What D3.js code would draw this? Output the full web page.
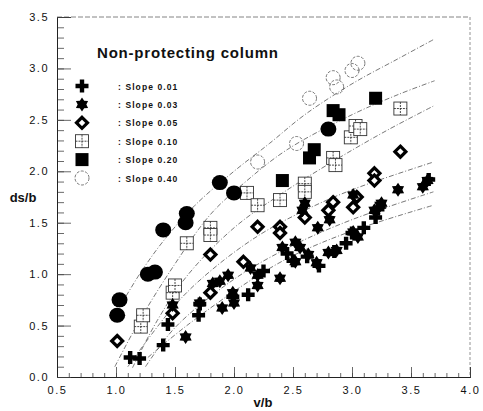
<!DOCTYPE html>
<html>
<head>
<meta charset="utf-8">
<script src="https://cdn.jsdelivr.net/npm/d3@7"></script>
<style>
  html, body { margin: 0; padding: 0; background: #fff; }
  svg { display: block; }
  text { font-family: "Liberation Sans", Arial, sans-serif; fill: #111; }
</style>
</head>
<body>
<svg id="chart" width="483" height="411"></svg>
<script>
// ---- data: v/b against ds/b for each bed slope ----
const slopeLabels = [": Slope 0.01", ": Slope 0.03", ": Slope 0.05", ": Slope 0.10", ": Slope 0.20", ": Slope 0.40"];

const slope001 = [[1.12,0.19],[1.20,0.18],[1.40,0.31],[1.44,0.51],[1.70,0.60],[1.71,0.71],[1.99,0.78],[2.12,0.80],
  [2.25,1.03],[2.45,1.20],[2.50,1.13],[2.62,1.17],[2.72,1.08],[2.85,1.22],[2.95,1.30],[3.00,1.40],[3.10,1.45],
  [3.20,1.55],[3.22,1.63],[3.65,1.92]];
const slope003 = [[1.48,0.70],[1.59,0.39],[1.71,0.72],[1.82,0.91],[1.88,0.93],[1.90,0.67],[1.95,0.99],[1.99,0.82],
  [2.00,0.72],[2.14,1.06],[2.20,0.99],[2.20,0.89],[2.39,0.96],[2.41,1.26],[2.52,1.31],[2.56,1.26],[2.52,1.12],
  [2.63,1.19],[2.70,1.11],[2.80,1.21],[2.87,1.23],[2.58,1.62],[2.60,1.69],[2.71,1.45],[2.81,1.53],[3.01,1.41],
  [3.05,1.36],[3.01,1.77],[3.19,1.62],[3.24,1.67],[3.25,1.69],[3.39,1.82],[3.60,1.85],[3.64,1.91]];
const slope005 = [[1.01,0.35],[1.48,0.62],[1.80,0.82],[1.80,1.19],[2.08,1.12],[2.20,1.46],[2.39,1.46],[2.39,1.40],
  [2.60,1.55],[2.80,1.62],[2.84,1.70],[3.01,1.65],[3.04,1.75],[3.19,1.98],[3.19,1.91],[3.41,2.19]];
const slope010 = [[1.21,0.49],[1.23,0.60],[1.48,0.82],[1.50,0.89],[1.60,1.30],[1.80,1.45],[1.80,1.38],[2.11,1.79],
  [2.20,1.67],[2.39,1.72],[2.60,1.88],[2.60,1.80],[2.84,2.13],[2.86,2.06],[2.99,2.33],[3.03,2.44],[3.07,2.41],[3.41,2.61]];
const slope020 = [[2.41,1.91],[2.64,2.13],[2.68,2.21],[2.84,2.59],[2.89,2.55],[3.20,2.71]];
const slope020Round = [[1.01,0.60],[1.03,0.75],[1.27,1.00],[1.33,1.02],[1.40,1.43],[1.59,1.50],[1.60,1.59],
  [1.88,1.89],[2.00,1.79],[2.80,2.41]];
const slope040 = [[2.20,2.09],[2.53,2.27],[2.64,2.71],[2.84,2.91],[2.87,2.82],[3.00,2.98],[3.05,3.05]];

// fitted trend lines, sampled along each curve
const fit040 = [[1.00,0.62],[1.20,1.00],[1.40,1.32],[1.67,1.67],[2.00,2.00],[2.30,2.27],[2.60,2.55],[3.00,2.85],[3.40,3.10],[3.69,3.28]];
const fit020 = [[0.99,0.10],[1.20,0.55],[1.50,1.10],[1.80,1.58],[2.10,1.90],[2.45,2.21],[3.00,2.55],[3.40,2.75],[3.70,2.88]];
const fit010 = [[1.14,0.09],[1.35,0.55],[1.60,0.98],[2.00,1.45],[2.40,1.78],[2.86,2.11],[3.30,2.40],[3.70,2.64]];
const fit005 = [[1.10,0.10],[1.50,0.70],[1.80,1.03],[2.20,1.37],[2.60,1.62],[3.00,1.82],[3.69,2.09]];
const fit003 = [[1.25,0.10],[1.50,0.48],[2.00,0.95],[2.50,1.28],[3.00,1.53],[3.69,1.80]];
const fit001 = [[1.27,0.19],[1.60,0.50],[2.14,0.94],[2.50,1.18],[3.00,1.42],[3.69,1.67]];

const xTicks = [0.5, 1.0, 1.5, 2.0, 2.5, 3.0, 3.5, 4.0];
const yTicks = [0.0, 0.5, 1.0, 1.5, 2.0, 2.5, 3.0, 3.5];

// ---- layout ----
const svg = d3.select("#chart");
const L = 57, R = 470, T = 17, B = 377;
const x = d3.scaleLinear().domain([0.5, 4.0]).range([L, R]);
const y = d3.scaleLinear().domain([0.0, 3.5]).range([B, T]);
const fmt = d3.format(".1f");

// frame: solid left/bottom, dashed top/right
svg.append("line").attr("x1", L).attr("x2", R).attr("y1", T).attr("y2", T)
  .attr("stroke", "#666").attr("stroke-width", 0.8).attr("stroke-dasharray", "5,2");
svg.append("line").attr("x1", R).attr("x2", R).attr("y1", T).attr("y2", B)
  .attr("stroke", "#777").attr("stroke-width", 0.8).attr("stroke-dasharray", "3,2");

// axes with inward ticks
const minorX = d3.range(5, 41).map(d => d / 10);
const minorY = d3.range(0, 36).map(d => d / 10);

const gx = svg.append("g").attr("transform", `translate(0,${B})`);
gx.call(d3.axisBottom(x).tickValues(minorX).tickSize(-4).tickFormat(""));
gx.call(g => g.append("g").call(d3.axisBottom(x).tickValues(xTicks).tickSize(-10).tickFormat("")));
const gxl = svg.append("g").attr("transform", `translate(0,${B})`)
  .call(d3.axisBottom(x).tickValues(xTicks).tickSize(0).tickPadding(9).tickFormat(fmt));
gxl.select(".domain").remove();

const gy = svg.append("g").attr("transform", `translate(${L},0)`);
gy.call(d3.axisLeft(y).tickValues(minorY).tickSize(-7).tickFormat(""));
gy.call(g => g.append("g").call(d3.axisLeft(y).tickValues(yTicks).tickSize(-14).tickFormat("")));
const gyl = svg.append("g").attr("transform", `translate(${L},0)`)
  .call(d3.axisLeft(y).tickValues(yTicks).tickSize(0).tickPadding(8).tickFormat(fmt));
gyl.select(".domain").remove();

svg.selectAll(".domain").attr("stroke", "#222").attr("stroke-width", 1);
svg.selectAll(".tick line").attr("stroke", "#444").attr("stroke-width", 0.8);
svg.selectAll(".tick text").attr("font-size", 11).attr("letter-spacing", 1.5)
  .attr("font-family", "'Liberation Sans', Arial, sans-serif").attr("fill", "#111");

// axis titles
svg.append("text").attr("x", 23).attr("y", 202).attr("text-anchor", "middle")
  .attr("font-size", 13).attr("font-weight", "bold").text("ds/b");
svg.append("text").attr("x", 263).attr("y", 407).attr("text-anchor", "middle")
  .attr("font-size", 13).attr("font-weight", "bold").text("v/b");

// title
svg.append("text").attr("x", 97).attr("y", 58).attr("font-size", 15)
  .attr("font-weight", "bold").attr("letter-spacing", 0.8).text("Non-protecting column");

// ---- trend lines ----
const line = d3.line().x(d => x(d[0])).y(d => y(d[1])).curve(d3.curveCatmullRom.alpha(0.5));
[fit040, fit020, fit010, fit005, fit003, fit001].forEach(f => {
  svg.append("path").attr("d", line(f)).attr("fill", "none")
    .attr("stroke", "#555").attr("stroke-width", 0.8).attr("stroke-dasharray", "5,2,1,2");
});

// ---- marker shapes ----
const star6 = (r) => {
  const pts = [];
  for (let i = 0; i < 12; i++) {
    const a = -Math.PI / 2 + i * Math.PI / 6;
    const rr = i % 2 === 0 ? r : r * 0.62;
    pts.push([rr * Math.cos(a), rr * Math.sin(a)]);
  }
  return "M" + pts.map(p => p.join(",")).join("L") + "Z";
};
const cross = (s, w) => `M${-w},${-s}H${w}V${-w}H${s}V${w}H${w}V${s}H${-w}V${w}H${-s}V${-w}H${-w}Z`;

const drawers = {
  cross: (g) => g.append("path").attr("d", cross(6.5, 2.2)).attr("fill", "#000"),
  star: (g) => g.append("path").attr("d", star6(7)).attr("fill", "#000"),
  diamond: (g) => g.append("path").attr("d", "M0,-5.5L5.5,0L0,5.5L-5.5,0Z")
    .attr("fill", "#fff").attr("stroke", "#000").attr("stroke-width", 3.2),
  grid: (g) => {
    g.append("rect").attr("x", -6.5).attr("y", -6.5).attr("width", 13).attr("height", 13)
      .attr("fill", "#fff").attr("stroke", "#333").attr("stroke-width", 0.9);
    g.append("path").attr("d", "M-6.5,0H6.5M0,-6.5V6.5").attr("stroke", "#333")
      .attr("stroke-width", 0.9).attr("stroke-dasharray", "2,1");
  },
  square: (g) => g.append("rect").attr("x", -6.5).attr("y", -6.5).attr("width", 13).attr("height", 13)
    .attr("fill", "#000"),
  disc: (g) => g.append("ellipse").attr("rx", 8).attr("ry", 7.5).attr("fill", "#000"),
  ring: (g) => g.append("circle").attr("r", 7).attr("fill", "none").attr("stroke", "#555")
    .attr("stroke-width", 0.8).attr("stroke-dasharray", "3,1.5")
};

const series = [
  { data: slope040, shape: "ring" },
  { data: slope010, shape: "grid" },
  { data: slope020, shape: "square" },
  { data: slope020Round, shape: "disc" },
  { data: slope005, shape: "diamond" },
  { data: slope003, shape: "star" },
  { data: slope001, shape: "cross" }
];
series.forEach(s => {
  svg.append("g").selectAll("g").data(s.data).join("g")
    .attr("transform", d => `translate(${x(d[0])},${y(d[1])})`)
    .each(function () { drawers[s.shape](d3.select(this)); });
});

// ---- legend ----
const legendShapes = ["cross", "star", "diamond", "grid", "square", "ring"];
const legendY = d3.scalePoint().domain(d3.range(6)).range([86, 178]);
const lg = svg.append("g");
legendShapes.forEach((shape, i) => {
  const row = lg.append("g").attr("transform", `translate(82,${legendY(i)})`);
  drawers[shape](row);
  lg.append("text").attr("x", 118).attr("y", legendY(i) + 3.5)
    .attr("font-size", 8.5).attr("font-weight", "bold").attr("letter-spacing", 1.1)
    .text(slopeLabels[i]);
});
</script>
</body>
</html>
